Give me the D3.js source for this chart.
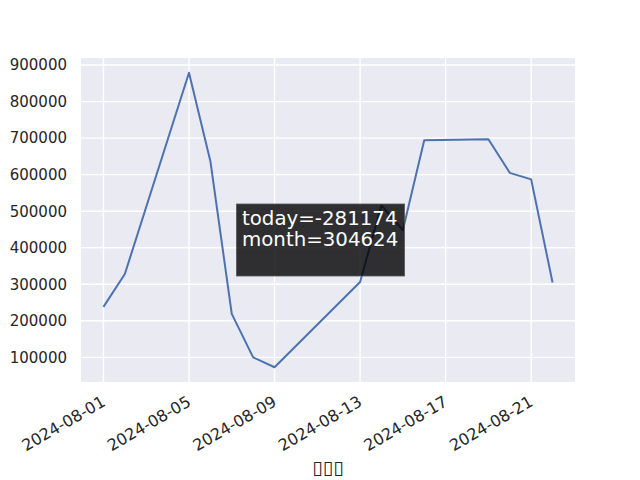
<!DOCTYPE html>
<html>
<head>
<meta charset="utf-8">
<script src="https://cdn.jsdelivr.net/npm/d3@7"></script>
<style>
  body { margin: 0; background: #ffffff; }
  svg { display: block; font-family: "DejaVu Sans", sans-serif; }
</style>
</head>
<body>
<svg id="chart" width="640" height="480"></svg>
<script>
// Data (trading days only, weekends skipped)
const dates = [
    "2024-08-01", "2024-08-02", "2024-08-05", "2024-08-06", "2024-08-07",
    "2024-08-08", "2024-08-09", "2024-08-13", "2024-08-14", "2024-08-15",
    "2024-08-16", "2024-08-19", "2024-08-20", "2024-08-21", "2024-08-22"
];
const values = [
    238000, 328000, 879000, 637000, 219000,
    100000, 72800, 306000, 516000, 448000,
    694000, 697000, 605000, 587000, 305000
];
const xTicks = ["2024-08-01", "2024-08-05", "2024-08-09", "2024-08-13", "2024-08-17", "2024-08-21"];
const yTicks = [100000, 200000, 300000, 400000, 500000, 600000, 700000, 800000, 900000];
// the reference title rendered as missing-glyph boxes
const xLabel = "▯▯▯";
const noteLines = ["today=-281174", "month=304624"];

const width = 640;
const height = 480;
const margin = { top: 58, right: 65, bottom: 98, left: 81 };

const svg = d3.select("#chart");
const parse = d3.utcParse("%Y-%m-%d");

const points = dates.map((d, i) => ({ date: parse(d), value: values[i] }));

// matplotlib style 5% margins on both axes
const pad = (lo, hi) => {
    const span = hi - lo;
    return [lo - span * 0.05, hi + span * 0.05];
};

const xExt = d3.extent(points, d => +d.date);
const xDom = pad(xExt[0], xExt[1]);
const x = d3.scaleUtc()
    .domain([new Date(xDom[0]), new Date(xDom[1])])
    .range([margin.left, width - margin.right]);

const yExt = d3.extent(values);
const y = d3.scaleLinear()
    .domain(pad(yExt[0], yExt[1]))
    .range([height - margin.bottom, margin.top]);

const plotW = width - margin.left - margin.right;
const plotH = height - margin.top - margin.bottom;

// axes background
svg.append("rect")
    .attr("x", margin.left)
    .attr("y", margin.top)
    .attr("width", plotW)
    .attr("height", plotH)
    .attr("fill", "#eaeaf2");

// grid
const grid = svg.append("g").attr("stroke", "#ffffff").attr("stroke-width", 1.4);
grid.selectAll("line.gy")
    .data(yTicks)
    .join("line")
    .attr("x1", margin.left)
    .attr("x2", width - margin.right)
    .attr("y1", d => y(d))
    .attr("y2", d => y(d));
grid.selectAll("line.gx")
    .data(xTicks)
    .join("line")
    .attr("x1", d => x(parse(d)))
    .attr("x2", d => x(parse(d)))
    .attr("y1", margin.top)
    .attr("y2", height - margin.bottom);

// y axis labels
const yAxis = svg.append("g")
    .attr("transform", `translate(${margin.left},0)`)
    .call(d3.axisLeft(y).tickValues(yTicks).tickSize(0).tickPadding(14).tickFormat(d3.format("d")));
yAxis.select(".domain").remove();
yAxis.selectAll("text")
    .attr("font-size", 15)
    .attr("font-family", "DejaVu Sans")
    .attr("fill", "#262626");

// x axis labels, rotated like autofmt_xdate
const xAxis = svg.append("g")
    .attr("transform", `translate(0,${height - margin.bottom})`)
    .call(d3.axisBottom(x).tickValues(xTicks.map(parse)).tickSize(0).tickFormat(d3.utcFormat("%Y-%m-%d")));
xAxis.select(".domain").remove();
xAxis.selectAll("text")
    .attr("font-size", 16)
    .attr("font-family", "DejaVu Sans")
    .attr("fill", "#262626")
    .attr("text-anchor", "end")
    .attr("dy", "0.75em")
    .attr("transform", "translate(-5,10) rotate(-30)");

// x axis title
svg.append("text")
    .attr("x", margin.left + plotW / 2)
    .attr("y", 474)
    .attr("text-anchor", "middle")
    .attr("font-size", 19)
    .attr("fill", "#262626")
    .text(xLabel);

// the series
const line = d3.line()
    .x(d => x(d.date))
    .y(d => y(d.value));

svg.append("path")
    .datum(points)
    .attr("fill", "none")
    .attr("stroke", "#4c72b0")
    .attr("stroke-width", 2)
    .attr("stroke-linejoin", "round")
    .attr("d", line);

// annotation box
const note = svg.append("g").attr("transform", "translate(236.5,204)");
note.append("rect")
    .attr("width", 168)
    .attr("height", 72)
    .attr("fill", "#000000")
    .attr("fill-opacity", 0.8)
    .attr("stroke", "#555555")
    .attr("stroke-opacity", 0.8)
    .attr("stroke-width", 1);
note.selectAll("text")
    .data(noteLines)
    .join("text")
    .attr("x", 5.5)
    .attr("y", (d, i) => 20.5 + i * 21.3)
    .attr("font-size", 19.8)
    .attr("fill", "#ffffff")
    .text(d => d);
</script>
</body>
</html>
